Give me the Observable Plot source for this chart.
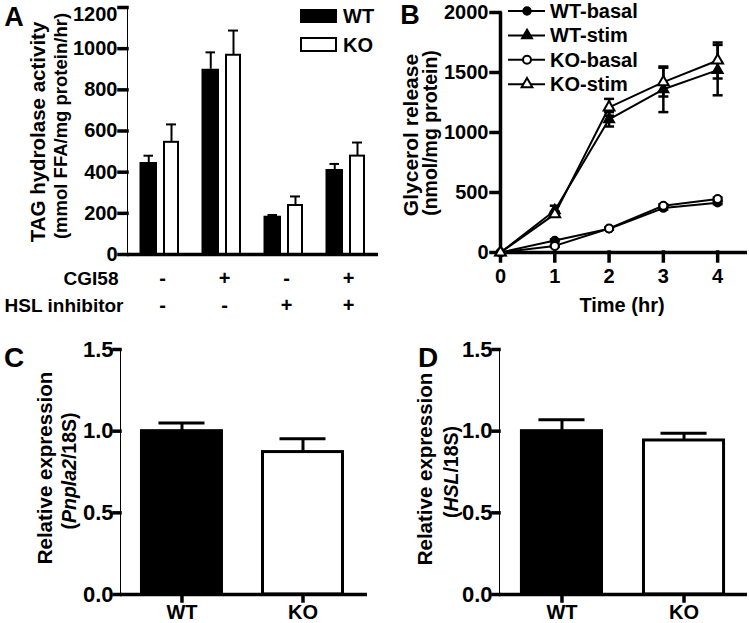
<!DOCTYPE html>
<html>
<head>
<meta charset="utf-8">
<script src="https://cdn.jsdelivr.net/npm/d3@7"></script>
<script src="https://cdn.jsdelivr.net/npm/@observablehq/plot@0.6"></script>
<style>
html, body { margin: 0; padding: 0; background: #fff; }
#fig { position: relative; width: 749px; height: 623px; overflow: hidden; background: #fff; color: #000;
  font-family: "Liberation Sans", Arial, Helvetica, sans-serif; font-weight: bold; }
#fig svg [aria-label*="axis"] line, #fig svg [aria-label*="axis"] path { stroke-width: 3.5px; stroke: #000; stroke-linecap: square; }
.lbl { position: absolute; white-space: nowrap; line-height: 1; font-weight: bold; }
</style>
</head>
<body>
<div id="fig"></div>
<script>
// ---------- Panel A: TAG hydrolase activity ----------
const groups = ["g1", "g2", "g3", "g4"];
const cgi58Status = ["-", "+", "-", "+"];
const hslInhibitorStatus = ["-", "-", "+", "+"];
const wtActivity = [447, 900, 186, 413];
const wtActivityErr = [33, 82, 6, 27];
const koActivity = [545, 968, 238, 478];
const koActivityErr = [87, 120, 44, 66];
const activityTicks = [0, 200, 400, 600, 800, 1000, 1200];
const genotypeNames = ["WT", "KO"];

// ---------- Panel B: Glycerol release ----------
const hours = [0, 1, 2, 3, 4];
const seriesNames = ["WT-basal", "WT-stim", "KO-basal", "KO-stim"];
const wtBasal = [0, 100, 198, 370, 415];
const wtStim = [0, 350, 1110, 1360, 1520];
const koBasal = [0, 55, 200, 390, 445];
const koStim = [0, 320, 1210, 1420, 1600];
const wtBasalErr = [0, 8, 8, 12, 12];
const wtStimErr = [0, 40, 60, 190, 210];
const koBasalErr = [0, 8, 8, 12, 12];
const koStimErr = [0, 20, 70, 120, 150];
const glycerolTicks = [0, 500, 1000, 1500, 2000];

// ---------- Panels C & D: relative expression ----------
const pnpla2Expr = [1.0, 0.872];
const pnpla2Err = [0.05, 0.082];
const hslExpr = [1.0, 0.943];
const hslErr = [0.07, 0.045];
const exprTicks = [0, 0.5, 1.0, 1.5];

// ---------------------------------------------------------
const fig = document.getElementById("fig");
const FONT = '"Liberation Sans", Arial, Helvetica, sans-serif';
const baseStyle = {fontFamily: FONT, fontSize: "20px", fontWeight: "bold", color: "#000", background: "transparent", overflow: "visible"};

function place(el, left, top) {
  el.style.position = "absolute";
  el.style.left = left + "px";
  el.style.top = top + "px";
  fig.appendChild(el);
}
function label(html, cx, cy, {size = 19, rotate = false, anchor = "middle"} = {}) {
  const d = document.createElement("div");
  d.className = "lbl";
  d.innerHTML = html;
  d.style.left = cx + "px";
  d.style.top = cy + "px";
  d.style.fontSize = size + "px";
  const tx = anchor === "start" ? "0" : "-50%";
  d.style.transform = `translate(${tx},-50%)` + (rotate ? " rotate(-90deg)" : "");
  fig.appendChild(d);
}

// ---------- Panel A ----------
const aRows = groups.map((g, i) => ({
  g, wt: wtActivity[i], wtErr: wtActivityErr[i], ko: koActivity[i], koErr: koActivityErr[i],
  cgi: cgi58Status[i], hsl: hslInhibitorStatus[i]
}));
const activityTop = activityTicks[activityTicks.length - 1];
const panelA = Plot.plot({
  width: 380, height: 320, marginLeft: 127, marginRight: 2, marginTop: 7, marginBottom: 66,
  style: baseStyle,
  x: {domain: groups, padding: 0, round: true, axis: null},
  y: {domain: [0, activityTop], ticks: activityTicks, tickFormat: d => d === activityTop ? "" : d3.format("d")(d),
      tickSize: 8, tickPadding: 2, line: true, label: null},
  marks: [
    Plot.ruleX(aRows, {x: "g", y1: "wt", y2: d => d.wt + d.wtErr, dx: -11.75, stroke: "#000", strokeWidth: 2}),
    Plot.tickY(aRows, {x: "g", y: d => d.wt + d.wtErr, insetLeft: 14.5, insetRight: 38, stroke: "#000", strokeWidth: 2}),
    Plot.ruleX(aRows, {x: "g", y1: "ko", y2: d => d.ko + d.koErr, dx: 11, stroke: "#000", strokeWidth: 2}),
    Plot.tickY(aRows, {x: "g", y: d => d.ko + d.koErr, insetLeft: 37, insetRight: 15, stroke: "#000", strokeWidth: 2}),
    Plot.barY(aRows, {x: "g", y: "wt", fill: "#000", insetLeft: 10.5, insetRight: 34}),
    Plot.barY(aRows, {x: "g", y: "ko", fill: "#fff", stroke: "#000", strokeWidth: 2, insetLeft: 35, insetRight: 13}),
    Plot.ruleY([0], {stroke: "#000", strokeWidth: 3.5}),
    Plot.text([activityTop], {y: d => d, text: d => String(d), frameAnchor: "left", textAnchor: "end", lineAnchor: "middle", dx: -10, dy: 7, fontSize: 20, fontWeight: "bold"}),
    Plot.text(aRows, {x: "g", text: "cgi", frameAnchor: "bottom", lineAnchor: "middle", dy: 24, dx: 2, fontSize: 20, fontWeight: "bold"}),
    Plot.text(aRows, {x: "g", text: "hsl", frameAnchor: "bottom", lineAnchor: "middle", dy: 51, dx: 2, fontSize: 20, fontWeight: "bold"}),
    Plot.text(["CGI58"], {text: d => d, frameAnchor: "bottom-left", textAnchor: "end", lineAnchor: "middle", dx: -9, dy: 24, fontSize: 19, fontWeight: "bold"}),
    Plot.text(["HSL inhibitor"], {text: d => d, frameAnchor: "bottom-left", textAnchor: "end", lineAnchor: "middle", dx: -4, dy: 51, fontSize: 19, fontWeight: "bold"})
  ]
});
place(panelA, 0, 0);

// ---------- Panel B ----------
const glycerolValues = [wtBasal, wtStim, koBasal, koStim];
const glycerolErrors = [wtBasalErr, wtStimErr, koBasalErr, koStimErr];
const seriesSymbols = [d3.symbolCircle, d3.symbolTriangle, d3.symbolCircle, d3.symbolTriangle];
const bRows = [];
seriesNames.forEach((s, k) => hours.forEach((t, i) =>
  bRows.push({series: s, t, v: glycerolValues[k][i], e: glycerolErrors[k][i], wt: s.startsWith("WT")})));
const capSymbol = {draw(ctx, size) { const w = Math.sqrt(size / Math.PI); ctx.moveTo(-w, 0); ctx.lineTo(w, 0); }};

const panelB = Plot.plot({
  width: 369, height: 320, marginLeft: 120, marginRight: 2, marginTop: 12, marginBottom: 68,
  style: baseStyle,
  x: {domain: [0, 4.55], ticks: hours, tickFormat: d3.format("d"), tickSize: 9, tickPadding: 7, label: null},
  y: {domain: [0, 2000], ticks: glycerolTicks, tickFormat: d3.format("d"), tickSize: 9, tickPadding: 3, label: null},
  symbol: {domain: seriesNames, range: seriesSymbols},
  marks: [
    Plot.ruleX([0], {stroke: "#000", strokeWidth: 3.5}),
    Plot.ruleY([0], {stroke: "#000", strokeWidth: 3.5}),
    Plot.line(bRows, {x: "t", y: "v", z: "series", stroke: "#000", strokeWidth: 2}),
    Plot.ruleX(bRows, {filter: d => d.e > 0, x: "t", y1: d => d.v - d.e, y2: d => d.v + d.e, stroke: "#000", strokeWidth: 2.5}),
    Plot.dot(bRows, {filter: d => d.e > 0, x: "t", y: d => d.v + d.e, symbol: capSymbol, r: 5, fill: "none", stroke: "#000", strokeWidth: 2.5}),
    Plot.dot(bRows, {filter: d => d.e > 0, x: "t", y: d => d.v - d.e, symbol: capSymbol, r: 5, fill: "none", stroke: "#000", strokeWidth: 2.5}),
    Plot.dot(bRows, {filter: d => d.wt, x: "t", y: "v", symbol: "series", r: 4, fill: "#000", stroke: "#000", strokeWidth: 1.5}),
    Plot.dot(bRows, {filter: d => !d.wt, x: "t", y: "v", symbol: "series", r: 4, fill: "#fff", stroke: "#000", strokeWidth: 2})
  ]
});
place(panelB, 380, 0);

// ---------- Panels C & D ----------
function exprPanel(values, errs, opts) {
  const rows = genotypeNames.map((g, i) => ({g, v: values[i], e: errs[i]}));
  return Plot.plot({
    width: opts.width, height: 303, marginLeft: opts.marginLeft, marginRight: opts.marginRight, marginTop: 29, marginBottom: 29,
    style: baseStyle,
    x: {domain: genotypeNames, paddingInner: opts.pi, paddingOuter: opts.po, align: opts.align, round: false, tickSize: 7, tickPadding: 3, label: null},
    y: {domain: [0, 1.5], ticks: exprTicks, tickFormat: d3.format(".1f"), tickSize: 6, tickPadding: 1, line: true, label: null},
    marks: [
      Plot.barY(rows, {filter: d => d.g === "WT", x: "g", y: "v", fill: "#000", stroke: "#000", strokeWidth: 3}),
      Plot.barY(rows, {filter: d => d.g !== "WT", x: "g", y: "v", fill: "#fff", stroke: "#000", strokeWidth: 3}),
      Plot.ruleX(rows, {x: "g", y1: "v", y2: d => d.v + d.e, stroke: "#000", strokeWidth: 3}),
      Plot.tickY(rows, {x: "g", y: d => d.v + d.e, insetLeft: 17, insetRight: 17, stroke: "#000", strokeWidth: 3}),
      Plot.ruleY([0], {stroke: "#000", strokeWidth: 3.5})
    ]
  });
}
const panelC = exprPanel(pnpla2Expr, pnpla2Err, {width: 375, marginLeft: 120, marginRight: 8, pi: 0.339, po: 0.19, align: 0.467});
const panelD = exprPanel(hslExpr, hslErr, {width: 374, marginLeft: 124, marginRight: 2, pi: 0.344, po: 0.188, align: 0.489});
place(panelC, 0, 320);
place(panelD, 375, 320);
for (const p of [panelC, panelD]) {
  p.querySelectorAll('[aria-label^="y-axis"] text, [aria-label="y-axis"] text').forEach(t => t.style.fontSize = "22px");
}

// ---------- Legends ----------
function box(left, top, w, h, filled) {
  const b = document.createElement("div");
  b.style.cssText = `position:absolute;left:${left}px;top:${top}px;width:${w}px;height:${h}px;box-sizing:border-box;` +
    (filled ? "background:#000;" : "background:#fff;border:2.5px solid #000;");
  fig.appendChild(b);
}
box(300, 9, 37, 14, true);
box(300, 37, 37, 15, false);
label(genotypeNames[0], 343, 16, {size: 20, anchor: "start"});
label(genotypeNames[1], 343, 45, {size: 20, anchor: "start"});

const legB = d3.create("svg").attr("width", 249).attr("height", 100)
  .style("position", "absolute").style("left", "500px").style("top", "0px").style("overflow", "visible");
seriesNames.forEach((s, k) => {
  const y = 11 + k * 24.4;
  legB.append("line").attr("x1", 8).attr("x2", 45).attr("y1", y).attr("y2", y).attr("stroke", "#000").attr("stroke-width", 2);
  legB.append("path").attr("transform", `translate(27,${y})`).attr("d", d3.symbol(seriesSymbols[k], 16 * Math.PI)())
    .attr("fill", s.startsWith("WT") ? "#000" : "#fff").attr("stroke", "#000").attr("stroke-width", s.startsWith("WT") ? 1.5 : 2);
  legB.append("text").attr("x", 50).attr("y", y).attr("dy", "0.35em").text(s)
    .attr("font-family", FONT).attr("font-size", 20).attr("font-weight", "bold").attr("fill", "#000");
});
fig.appendChild(legB.node());

// ---------- Axis titles ----------
label("TAG hydrolase activity", 38, 132, {size: 20.5, rotate: true});
label("(mmol FFA/mg protein/hr)", 61, 126, {size: 18.5, rotate: true});
label("Glycerol release", 410, 135, {size: 21, rotate: true});
label("(nmol/mg protein)", 431, 133, {size: 19.5, rotate: true});
label("Time (hr)", 622, 305, {size: 20});
label("Relative expression", 45, 468, {size: 20.5, rotate: true});
label("(<i>Pnpla2</i>/18S)", 70, 471, {size: 19.5, rotate: true});
label("Relative expression", 425, 469, {size: 20.5, rotate: true});
label("(<i>HSL</i>/18S)", 452, 472, {size: 19.5, rotate: true});

// ---------- Panel letters ----------
label("A", 14, 17, {size: 27});
label("B", 410, 15, {size: 27});
label("C", 14, 358, {size: 28});
label("D", 428, 358, {size: 28});
</script>
</body>
</html>
